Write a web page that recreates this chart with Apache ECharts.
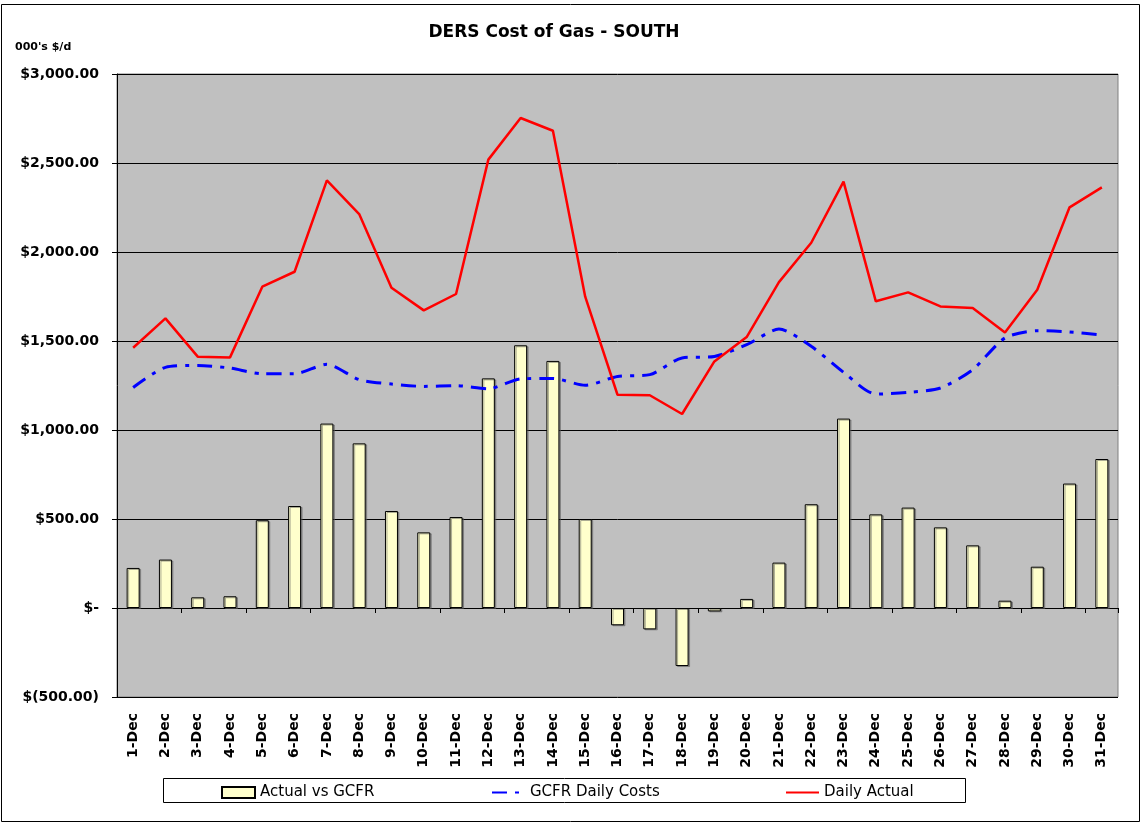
<!DOCTYPE html>
<html>
<head>
<meta charset="utf-8">
<title>DERS Cost of Gas - SOUTH</title>
<script src="https://cdn.jsdelivr.net/npm/echarts@6/dist/echarts.min.js"></script>
<style>
	html, body { margin: 0; padding: 0; background: #fff; }
	#Chart1 { width: 1143px; height: 825px; }
</style>
</head>
<body>
<div id="Chart1"></div>
<script>
		// 数据 (000's $/d)
		var days = ['1-Dec', '2-Dec', '3-Dec', '4-Dec', '5-Dec', '6-Dec', '7-Dec', '8-Dec', '9-Dec', '10-Dec',
			'11-Dec', '12-Dec', '13-Dec', '14-Dec', '15-Dec', '16-Dec', '17-Dec', '18-Dec', '19-Dec', '20-Dec',
			'21-Dec', '22-Dec', '23-Dec', '24-Dec', '25-Dec', '26-Dec', '27-Dec', '28-Dec', '29-Dec', '30-Dec', '31-Dec'];
		var actualVsGcfr = [225, 272, 60, 66, 493, 573, 1036, 925, 545, 425,
			511, 1290, 1476, 1388, 500, -97, -120, -326, -19, 51,
			255, 583, 1064, 526, 564, 453, 352, 41, 232, 699, 837];
		var gcfrDaily = [1239, 1352, 1363, 1348, 1316, 1316, 1369, 1283, 1258, 1245,
			1249, 1232, 1287, 1290, 1251, 1301, 1311, 1405, 1413, 1479,
			1567, 1470, 1324, 1202, 1211, 1236, 1339, 1517, 1558, 1551, 1534];
		var dailyActual = [1462, 1627, 1412, 1408, 1805, 1889, 2402, 2213, 1799, 1672,
			1764, 2519, 2753, 2681, 1749, 1198, 1195, 1090, 1385, 1522,
			1831, 2052, 2395, 1723, 1773, 1694, 1685, 1548, 1788, 2251, 2363];
		var yTicks = [-500, 0, 500, 1000, 1500, 2000, 2500, 3000];

		function money(v) {
			if (v === 0) return '$-';
			var s = Math.abs(v).toFixed(2).replace(/\B(?=(\d{3})+(?!\d))/g, ',');
			return v < 0 ? '$(' + s + ')' : '$' + s;
		}

		var Box1 = document.getElementById('Chart1');
		var instant1 = echarts.init(Box1);
		var boldFont = 'DejaVu Sans';
		var legendText = { color: '#000', fontFamily: 'DejaVu Sans', fontSize: 15 };
		var option1 = {
			backgroundColor: '#FFFFFF',
			animation: false,
			title: {
				text: 'DERS Cost of Gas - SOUTH',
				left: 549,
				top: 19,
				textAlign: 'center',
				textStyle: {
					color: '#000',
					fontFamily: boldFont,
					fontWeight: 'bold',
					fontSize: 17
				}
			},
			graphic: [{
					type: 'rect',
					shape: { x: 1.5, y: 4.5, width: 1138, height: 817 },
					style: { fill: 'none', stroke: '#000', lineWidth: 1 },
					silent: true
				},
				{
					type: 'text',
					left: 15,
					top: 42,
					style: {
						text: "000's $/d",
						fill: '#000',
						font: 'bold 11px "DejaVu Sans"'
					}
				},
				{
					type: 'rect',
					shape: { x: 163.5, y: 778.5, width: 802, height: 24 },
					style: { fill: '#fff', stroke: '#000', lineWidth: 1 },
					z: 0,
					silent: true
				}
			],
			legend: [{
					data: [{ name: 'Actual vs GCFR', icon: 'rect' }],
					left: 221,
					top: 785,
					padding: 0,
					itemWidth: 33,
					itemHeight: 11,
					textStyle: legendText
				},
				{
					data: ['GCFR Daily Costs'],
					left: 491,
					top: 785,
					padding: 0,
					itemWidth: 33,
					itemHeight: 11,
					itemStyle: { opacity: 0 },
					textStyle: legendText
				},
				{
					data: ['Daily Actual'],
					left: 785,
					top: 785,
					padding: 0,
					itemWidth: 33,
					itemHeight: 11,
					itemStyle: { opacity: 0 },
					textStyle: legendText
				}
			],
			grid: {
				left: 117,
				right: 25,
				top: 74,
				bottom: 128,
				show: true,
				backgroundColor: '#C0C0C0',
				borderColor: '#808080',
				borderWidth: 1
			},
			xAxis: [{
					type: 'category',
					data: days,
					position: 'bottom',
					axisLine: { onZero: false, show: false },
					axisTick: { show: false },
					axisLabel: {
						rotate: 90,
						margin: 16,
						interval: 0,
						color: '#000',
						fontFamily: boldFont,
						fontWeight: 'bold',
						fontSize: 14
					}
				},
				{
					type: 'category',
					data: days,
					position: 'bottom',
					axisLine: { onZero: true, lineStyle: { color: '#000', width: 1 } },
					axisTick: { show: true, length: 5, lineStyle: { color: '#000' } },
					axisLabel: { show: false }
				}
			],
			yAxis: {
				type: 'value',
				min: yTicks[0],
				max: yTicks[yTicks.length - 1],
				interval: 500,
				axisLine: { show: true, lineStyle: { color: '#000', width: 1 } },
				axisTick: { show: true, length: 5, lineStyle: { color: '#000' } },
				axisLabel: {
					margin: 18,
					color: '#000',
					fontFamily: boldFont,
					fontWeight: 'bold',
					fontSize: 14,
					formatter: money
				},
				splitLine: { show: true, lineStyle: { color: '#000', width: 1 } }
			},
			series: [{
					name: 'Actual vs GCFR',
					type: 'bar',
					data: actualVsGcfr,
					barWidth: 13,
					itemStyle: {
						color: '#FFFFCC',
						borderColor: '#000',
						borderWidth: 1,
						shadowColor: 'rgba(90,90,90,0.5)',
						shadowOffsetX: 1.5,
						shadowOffsetY: 1
					}
				},
				{
					name: 'GCFR Daily Costs',
					type: 'line',
					data: gcfrDaily,
					symbol: 'none',
					smooth: 0.25,
					color: '#0000FF',
					lineStyle: { color: '#0000FF', width: 3, type: [15, 8, 4, 8] },
					z: 3
				},
				{
					name: 'Daily Actual',
					type: 'line',
					data: dailyActual,
					symbol: 'none',
					color: '#FF0000',
					lineStyle: { color: '#FF0000', width: 2.5 },
					z: 4
				}
			]
		};
		instant1.setOption(option1);
</script>
</body>
</html>
